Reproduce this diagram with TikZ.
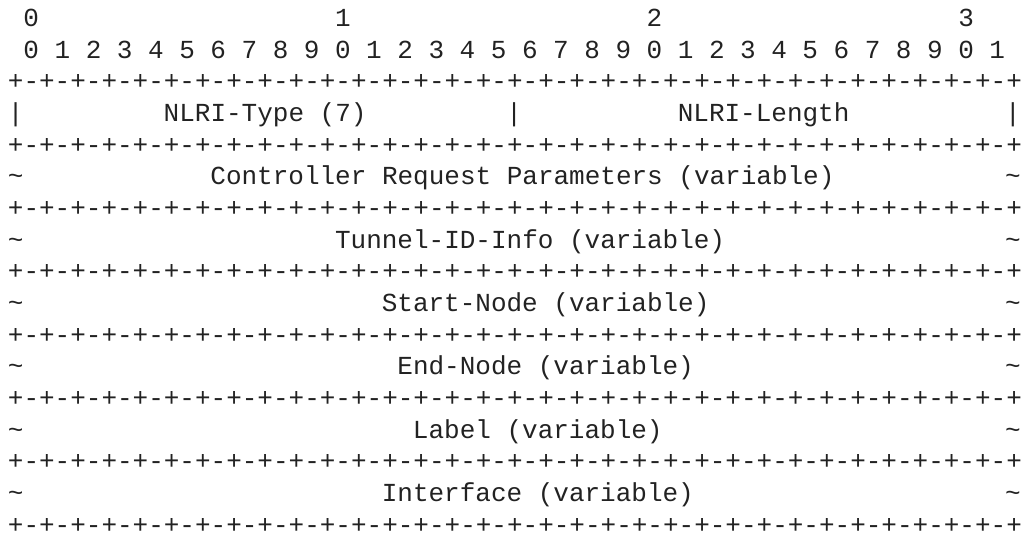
\documentclass[tikz,border=0pt]{standalone}
\usepackage{fontspec}
\setmonofont{Liberation Mono}
\definecolor{ink}{HTML}{222222}
\tikzset{
  ascii/.style={anchor=base west, inner sep=0pt, outer sep=0pt, text=ink,
    font=\ttfamily\fontsize{19.5}{19.5}\selectfont}
}
\newcommand\rulerow{+-+-+-+-+-+-+-+-+-+-+-+-+-+-+-+-+-+-+-+-+-+-+-+-+-+-+-+-+-+-+-+-+}
\begin{document}
\begin{tikzpicture}[x=11.685pt, y=-23.74pt]
  \useasboundingbox (0pt,0pt) rectangle (768pt,-412.5pt);
  \begin{scope}[shift={(5.925pt,-20pt)}]
  % bit ruler
  \foreach \d in {0,...,3}
    \node[ascii] (hdr\d) at (20*\d+1,0) {\d};
  \foreach \i in {0,...,31} {
    \pgfmathtruncatemacro\digit{mod(\i,10)}
    \node[ascii] (bit\i) at (2*\i+1,1) {\digit};
  }
  % separator rows
  \foreach \r in {2,4,...,16}
    \node[ascii] (rule\r) at (0,\r) {\rulerow};
  % fixed fields
  \node[ascii] (barL) at (0,3) {|};
  \node[ascii] (barM) at (32,3) {|};
  \node[ascii] (barR) at (64,3) {|};
  \node[ascii] (type) at (10,3) {NLRI-Type (7)};
  \node[ascii] (length) at (43,3) {NLRI-Length};
  % variable fields
  \foreach \r in {5,7,...,15} {
    \node[ascii] (tildeL\r) at (0,\r) {\textasciitilde};
    \node[ascii] (tildeR\r) at (64,\r) {\textasciitilde};
  }
  \node[ascii] (params) at (13,5) {Controller Request Parameters (variable)};
  \node[ascii] (tunnel) at (21,7) {Tunnel-ID-Info (variable)};
  \node[ascii] (start) at (24,9) {Start-Node (variable)};
  \node[ascii] (end) at (25,11) {End-Node (variable)};
  \node[ascii] (label) at (26,13) {Label (variable)};
  \node[ascii] (iface) at (24,15) {Interface (variable)};
  \end{scope}
\end{tikzpicture}
\end{document}
